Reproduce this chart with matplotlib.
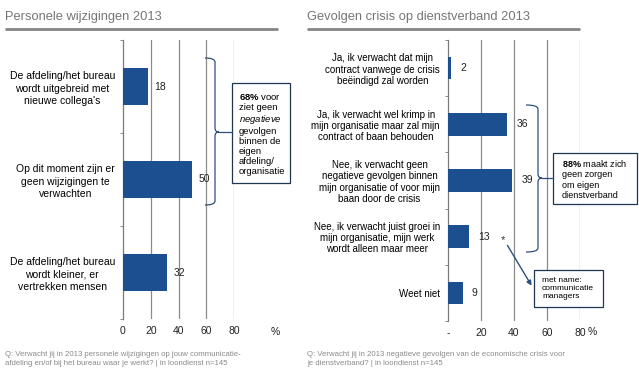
import matplotlib.pyplot as plt
from matplotlib.path import Path
from matplotlib.patches import PathPatch, Rectangle

plt.rcParams['font.family'] = ['Liberation Sans', 'DejaVu Sans']
plt.rcParams['mathtext.fontset'] = 'custom'
plt.rcParams['mathtext.rm'] = 'Liberation Sans'
plt.rcParams['mathtext.bf'] = 'Liberation Sans:bold'
plt.rcParams['mathtext.it'] = 'Liberation Sans:italic'

# data
left_title = "Personele wijzigingen 2013"
left_cats = ["De afdeling/het bureau\nwordt uitgebreid met\nnieuwe collega's",
             "Op dit moment zijn er\ngeen wijzigingen te\nverwachten",
             "De afdeling/het bureau\nwordt kleiner, er\nvertrekken mensen"]
left_vals = [18, 50, 32]
left_xticks = [0, 20, 40, 60, 80]
left_xlabels = ["0", "20", "40", "60", "80"]
left_note = ("Q: Verwacht jij in 2013 personele wijzigingen op jouw communicatie-\n"
             "afdeling en/of bij het bureau waar je werkt? | in loondienst n=145")

right_title = "Gevolgen crisis op dienstverband 2013"
right_cats = ["Ja, ik verwacht dat mijn\ncontract vanwege de crisis\nbeëindigd zal worden",
              "Ja, ik verwacht wel krimp in\nmijn organisatie maar zal mijn\ncontract of baan behouden",
              "Nee, ik verwacht geen\nnegatieve gevolgen binnen\nmijn organisatie of voor mijn\nbaan door de crisis",
              "Nee, ik verwacht juist groei in\nmijn organisatie, mijn werk\nwordt alleen maar meer",
              "Weet niet"]
right_vals = [2, 36, 39, 13, 9]
right_xticks = [0, 20, 40, 60, 80]
right_xlabels = ["-", "20", "40", "60", "80"]
right_note = ("Q: Verwacht jij in 2013 negatieve gevolgen van de economische crisis voor\n"
              "je dienstverband? | in loondienst n=145")

BAR = '#1b4f8f'
GRID = '#8a8a8a'
TITLE = '#767676'
NOTE = '#8a8a8a'
LINE = '#2d4f7c'

W, H = 639, 379
fig = plt.figure(figsize=(W / 100, H / 100), dpi=100)


def px_axes(x0, x1, y0, y1):
    return fig.add_axes([x0 / W, 1 - y1 / H, (x1 - x0) / W, (y1 - y0) / H])


def bar_panel(ax, cats, vals, xticks, xlabels, fs, lsp, val_off):
    n = len(cats)
    ys = list(range(n))
    ax.barh(ys, vals, height=0.4, color=BAR, zorder=3)
    ax.set_xlim(0, 80)
    ax.set_ylim(n - 0.5, -0.5)
    for s in ['top', 'right', 'bottom']:
        ax.spines[s].set_visible(False)
    ax.spines['left'].set_color('#7a7a7a')
    ax.spines['left'].set_linewidth(0.9)
    ax.set_xticks(xticks)
    ax.set_xticklabels(xlabels, fontsize=7.5, color='#222222')
    ax.tick_params(axis='x', length=0, pad=5)
    for x in xticks[1:]:
        ax.axvline(x, color=GRID, lw=0.9, zorder=1)
    ax.set_yticks(ys)
    ax.set_yticklabels(cats, fontsize=fs, multialignment='center', linespacing=lsp)
    ax.tick_params(axis='y', which='major', length=0, pad=5.8)
    ax.set_yticks([i - 0.5 for i in range(n + 1)], minor=True)
    ax.tick_params(axis='y', which='minor', length=2.5, color='#7a7a7a', direction='out')
    for y, v in zip(ys, vals):
        ax.annotate(str(v), (v, y), xytext=(val_off, 0), textcoords='offset points',
                    ha='left', va='center', fontsize=7.5, color='#222222')
    ax.patch.set_alpha(0)


axl = px_axes(123, 234, 40, 319)
bar_panel(axl, left_cats, left_vals, left_xticks, left_xlabels, 7.5, 1.3, 4.5)
axr = px_axes(448, 580, 40, 321)
bar_panel(axr, right_cats, right_vals, right_xticks, right_xlabels, 7.0, 1.15, 6.5)

# overlay in pixel coordinates for titles, brackets and notes
ov = fig.add_axes([0, 0, 1, 1], zorder=5)
ov.set_xlim(0, W)
ov.set_ylim(H, 0)
ov.axis('off')
ov.patch.set_alpha(0)

ov.text(5, 17, left_title, fontsize=9.3, color=TITLE, va='center', ha='left')
ov.plot([5, 278], [29, 29], color='#858585', lw=2, solid_capstyle='butt')
ov.text(307, 17, right_title, fontsize=9.3, color=TITLE, va='center', ha='left')
ov.plot([307, 580], [29, 29], color='#858585', lw=2, solid_capstyle='butt')

ov.text(275, 332, '%', fontsize=7.5, color='#222222', ha='center', va='center')
ov.text(592, 332, '%', fontsize=7.5, color='#222222', ha='center', va='center')

ov.text(5, 359, left_note, fontsize=5.6, color=NOTE, ha='left', va='center', linespacing=1.3)
ov.text(307, 359, right_note, fontsize=5.6, color=NOTE, ha='left', va='center', linespacing=1.3)


def brace(x, y0, y1, ym, hook, box_x):
    verts = [(x - hook, y0), (x, y0), (x, y0 + 4),
             (x, ym - 4), (x, ym), (x + 4, ym),
             (x, ym), (x, ym + 4),
             (x, y1 - 4), (x, y1), (x - hook, y1)]
    codes = [Path.MOVETO, Path.CURVE3, Path.CURVE3,
             Path.LINETO, Path.CURVE3, Path.CURVE3,
             Path.CURVE3, Path.CURVE3,
             Path.LINETO, Path.CURVE3, Path.CURVE3]
    ov.add_patch(PathPatch(Path(verts, codes), fill=False, edgecolor=LINE, lw=0.9))
    ov.plot([x + 4, box_x], [ym, ym], color=LINE, lw=0.9)


def box(x0, x1, y0, y1):
    ov.add_patch(Rectangle((x0, y0), x1 - x0, y1 - y0, fill=True, facecolor='white',
                           edgecolor='#1f3550', lw=0.9))


brace(215, 58, 205, 132, 10, 232)
box(232, 290, 83, 183)
ov.text(239, 134,
        "$\\mathbf{68\\%}$ voor\nziet geen\n$\\mathit{negatieve}$\ngevolgen\nbinnen de\neigen\nafdeling/\norganisatie",
        fontsize=6.8, ha='left', va='center', linespacing=1.15)

brace(538, 105, 252, 178, 12, 553)
box(553, 637, 153, 204)
ov.text(562, 179, "$\\mathbf{88\\%}$ maakt zich\ngeen zorgen\nom eigen\ndienstverband",
        fontsize=6.5, ha='left', va='center', linespacing=1.15)

ov.text(503, 240, '*', fontsize=8, ha='center', va='center', color='#333333')
ov.annotate('', xy=(533, 288), xytext=(506, 243),
            arrowprops=dict(arrowstyle='-|>', color=LINE, lw=1.0, mutation_scale=7))
box(534, 603, 270, 307)
ov.text(542, 289, "met name:\ncommunicatie\nmanagers", fontsize=6, ha='left', va='center',
        linespacing=1.2)

fig.savefig('out.png', dpi=100)
